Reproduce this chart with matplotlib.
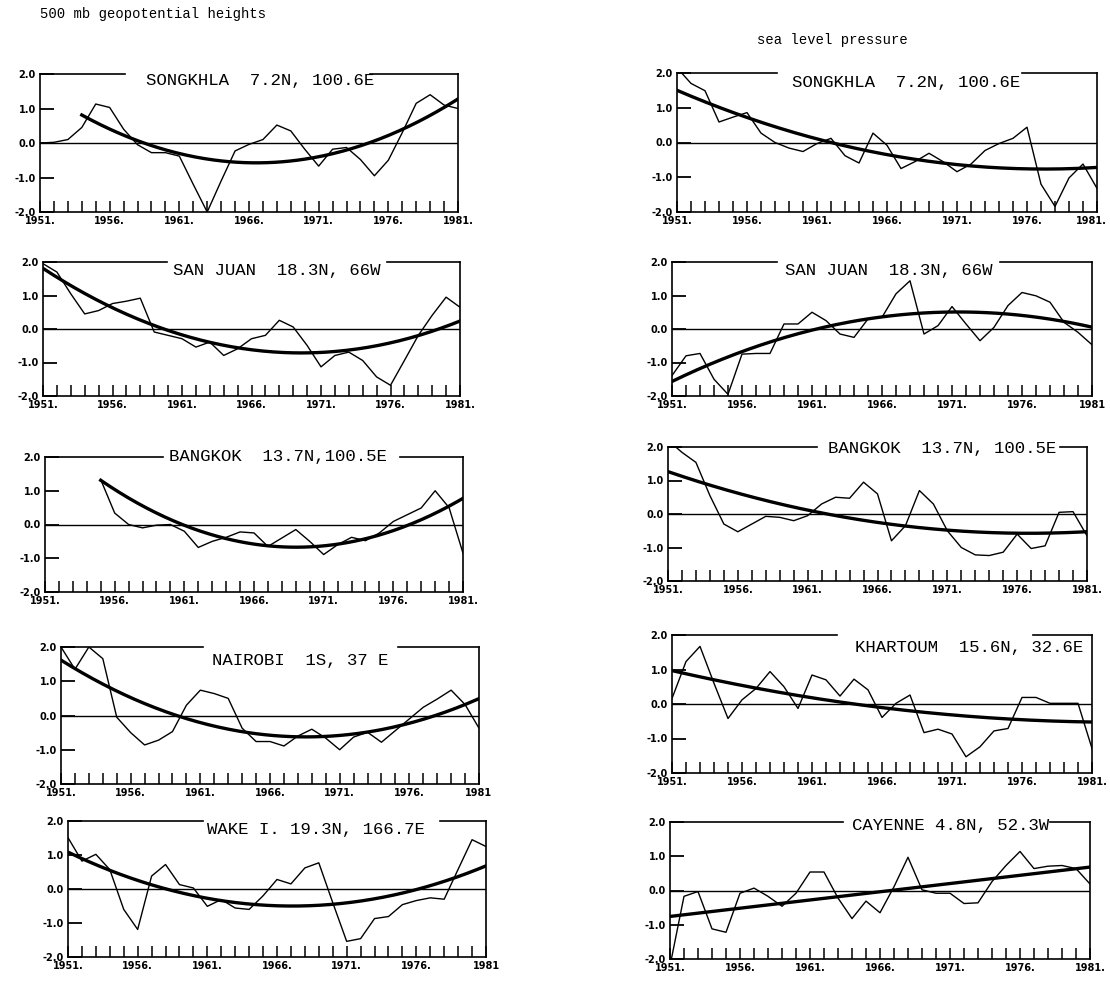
import numpy as np
import matplotlib
matplotlib.use('Agg')
import matplotlib.pyplot as plt
import matplotlib.transforms as mtransforms
from matplotlib.ticker import MultipleLocator, FixedLocator, FixedFormatter

nan = np.nan
years = np.arange(1951, 1982)

# 500 mb geopotential height anomalies (left column)
songkhla_z500 = [0.0, 0.02, 0.1, 0.45, 1.13, 1.03, 0.4, -0.05, -0.28, -0.28, -0.38, -1.2, -2.0, -1.1, -0.23, -0.04,
                 0.1, 0.52, 0.35, -0.18, -0.67, -0.18, -0.13, -0.48, -0.95, -0.5, 0.3, 1.15, 1.4, 1.1, 1.0]
san_juan_z500 = [1.95, 1.7, 1.05, 0.45, 0.55, 0.76, 0.83, 0.92, -0.09, -0.19, -0.29, -0.54, -0.39, -0.79, -0.59, -0.29,
                 -0.19, 0.26, 0.06, -0.49, -1.13, -0.79, -0.69, -0.94, -1.43, -1.68, -0.94, -0.19, 0.41, 0.95, 0.65]
bangkok_z500 = [nan, nan, nan, nan, 1.33, 0.34, 0.0, -0.1, -0.02, 0.0, -0.2, -0.68, -0.5, -0.38, -0.22, -0.25,
                -0.65, -0.4, -0.15, -0.5, -0.89, -0.6, -0.38, -0.48, -0.25, 0.09, 0.29, 0.49, 1.0, 0.5, -0.85]
nairobi_z500 = [2.0, 1.35, 2.0, 1.66, -0.05, -0.5, -0.86, -0.72, -0.47, 0.3, 0.74, 0.64, 0.5, -0.37, -0.76, -0.76,
                -0.89, -0.6, -0.4, -0.66, -1.0, -0.63, -0.49, -0.78, -0.44, -0.1, 0.24, 0.48, 0.74, 0.32, -0.37]
wake_z500 = [1.51, 0.82, 1.02, 0.57, -0.6, -1.19, 0.38, 0.72, 0.13, 0.03, -0.51, -0.31, -0.56, -0.6, -0.2, 0.28,
             0.15, 0.62, 0.77, -0.4, -1.54, -1.46, -0.87, -0.81, -0.46, -0.34, -0.26, -0.3, 0.58, 1.45, 1.25]

# sea level pressure anomalies (right column)
songkhla_slp = [2.15, 1.7, 1.49, 0.59, 0.73, 0.86, 0.27, 0.0, -0.16, -0.26, -0.03, 0.12, -0.38, -0.59, 0.27, -0.08,
                -0.75, -0.55, -0.31, -0.55, -0.84, -0.62, -0.23, -0.03, 0.12, 0.44, -1.2, -1.84, -1.02, -0.62, -1.32]
san_juan_slp = [-1.39, -0.8, -0.73, -1.5, -1.95, -0.75, -0.73, -0.73, 0.15, 0.15, 0.5, 0.25, -0.15, -0.25, 0.3, 0.35,
                1.05, 1.44, -0.15, 0.1, 0.67, 0.15, -0.35, 0.05, 0.7, 1.09, 0.99, 0.8, 0.2, -0.1, -0.47]
bangkok_slp = [2.2, 1.84, 1.54, 0.55, -0.3, -0.53, -0.3, -0.07, -0.1, -0.2, -0.05, 0.3, 0.5, 0.47, 0.95, 0.6,
               -0.8, -0.35, 0.7, 0.3, -0.5, -1.0, -1.22, -1.24, -1.14, -0.6, -1.03, -0.95, 0.05, 0.07, -0.65]
khartoum_slp = [0.16, 1.23, 1.67, 0.6, -0.42, 0.12, 0.45, 0.94, 0.5, -0.13, 0.84, 0.7, 0.23, 0.72, 0.41, -0.39,
                0.02, 0.26, -0.83, -0.73, -0.87, -1.53, -1.24, -0.78, -0.71, 0.19, 0.19, 0.02, 0.02, 0.02, -1.29]
cayenne_slp = [-2.2, -0.17, -0.03, -1.12, -1.22, -0.08, 0.07, -0.17, -0.46, -0.08, 0.54, 0.54, -0.22, -0.82, -0.31, -0.65,
               0.11, 0.97, 0.02, -0.08, -0.08, -0.38, -0.36, 0.26, 0.73, 1.14, 0.64, 0.71, 0.73, 0.64, 0.19]

# trend curve of the Bangkok 500 mb panel
bangkok_z500_trend_years = [1955, 1960, 1966, 1971, 1976, 1981]
bangkok_z500_trend = [1.33, 0.1, -0.55, -0.62, -0.2, 0.78]

titles = ["SONGKHLA  7.2N, 100.6E", "SAN JUAN  18.3N, 66W", "BANGKOK  13.7N,100.5E",
          "NAIROBI  1S, 37 E", "WAKE I. 19.3N, 166.7E",
          "SONGKHLA  7.2N, 100.6E", "SAN JUAN  18.3N, 66W", "BANGKOK  13.7N, 100.5E",
          "KHARTOUM  15.6N, 32.6E", "CAYENNE 4.8N, 52.3W"]
series = [songkhla_z500, san_juan_z500, bangkok_z500, nairobi_z500, wake_z500,
          songkhla_slp, san_juan_slp, bangkok_slp, khartoum_slp, cayenne_slp]
fit_start = [1954, 1951, 1955, 1951, 1951, 1951, 1951, 1951, 1951, 1951]
fit_deg = [2, 2, 2, 2, 2, 2, 2, 2, 2, 1]
last_dot = [True, True, True, False, False, True, False, True, True, True]

W, H = 1110, 981
# panel boxes in pixels: left, right, top, bottom
boxes = [(40, 458, 74, 212), (43, 460, 262, 396), (45, 463, 457, 592), (61, 479, 647, 784), (68, 486, 821, 957),
         (677, 1097, 73, 212), (672, 1092, 262, 396), (668, 1087, 447, 581), (672, 1092, 635, 773), (670, 1090, 822, 959)]
# title placement (axes fraction) and gap in the top frame line
title_pos = [(0.526, 0.955), (0.561, 0.94), (0.557, 1.0), (0.572, 0.905), (0.593, 0.935),
             (0.545, 0.935), (0.517, 0.94), (0.654, 0.99), (0.707, 0.906), (0.667, 0.975)]
gaps = [(0.203, 0.789), (0.297, 0.825), (0.282, 0.849), (0.34, 0.806), (0.323, 0.89),
        (0.238, 0.821), (0.25, 0.781), (0.356, 0.936), (0.393, 0.86), (0.412, 0.905)]

fig = plt.figure(figsize=(W / 100, H / 100), dpi=100)
fig.text(40 / W, 1 - 14 / H, "500 mb geopotential heights", family='Liberation Mono', fontsize=10, va='center')
fig.text(832 / W, 1 - 40 / H, "sea level pressure", family='Liberation Mono', fontsize=10, va='center', ha='center')

for i in range(10):
    l, r, t, b = boxes[i]
    ax = fig.add_axes([l / W, 1 - b / H, (r - l) / W, (b - t) / H])
    y = np.array(series[i], dtype=float)
    ax.plot(years, y, color='black', lw=1.0)

    # quadratic (or linear) trend curve
    if i == 2:
        tx_, ty_ = np.array(bangkok_z500_trend_years), np.array(bangkok_z500_trend)
    else:
        m = (years >= fit_start[i]) & ~np.isnan(y)
        tx_, ty_ = years[m], y[m]
    coef = np.polyfit(tx_ - 1966, ty_, fit_deg[i])
    xf = np.linspace(tx_[0], 1981, 200)
    ax.plot(xf, np.polyval(coef, xf - 1966), color='black', lw=2.4)

    ax.axhline(0, color='black', lw=1.0)
    ax.set_xlim(1951, 1981)
    ax.set_ylim(-2, 2)

    ax.xaxis.set_major_locator(FixedLocator([1951, 1956, 1961, 1966, 1971, 1976, 1981]))
    labs = ['1951.', '1956.', '1961.', '1966.', '1971.', '1976.', '1981.' if last_dot[i] else '1981']
    ax.xaxis.set_major_formatter(FixedFormatter(labs))
    ax.xaxis.set_minor_locator(MultipleLocator(1))
    ax.tick_params(axis='x', which='both', direction='in', length=8, width=1.1, pad=3)
    ax.set_yticks([-2, -1, 0, 1, 2])
    ax.set_yticklabels(['-2.0', '-1.0', '0.0', '1.0', '2.0'])
    ax.tick_params(axis='y', direction='in', length=10, width=1.3, pad=3)
    for lab in ax.get_xticklabels() + ax.get_yticklabels():
        lab.set_fontsize(7)
        lab.set_fontweight('bold')
    if r + 18 > W:
        last = ax.get_xticklabels()[-1]
        last.set_ha('right')
        last.set_transform(last.get_transform() + mtransforms.ScaledTranslation(0.1, 0, fig.dpi_scale_trans))

    for s in ax.spines.values():
        s.set_linewidth(1.2)
    ax.spines['top'].set_visible(False)
    g0, g1 = gaps[i]
    ax.plot([0, g0], [1, 1], transform=ax.transAxes, color='black', lw=1.2, clip_on=False)
    ax.plot([g1, 1], [1, 1], transform=ax.transAxes, color='black', lw=1.2, clip_on=False)

    tx, ty = title_pos[i]
    ax.text(tx, ty, titles[i], transform=ax.transAxes, ha='center', va='center',
            family='Liberation Mono', fontsize=12.5)

fig.savefig('out.png', dpi=100)
